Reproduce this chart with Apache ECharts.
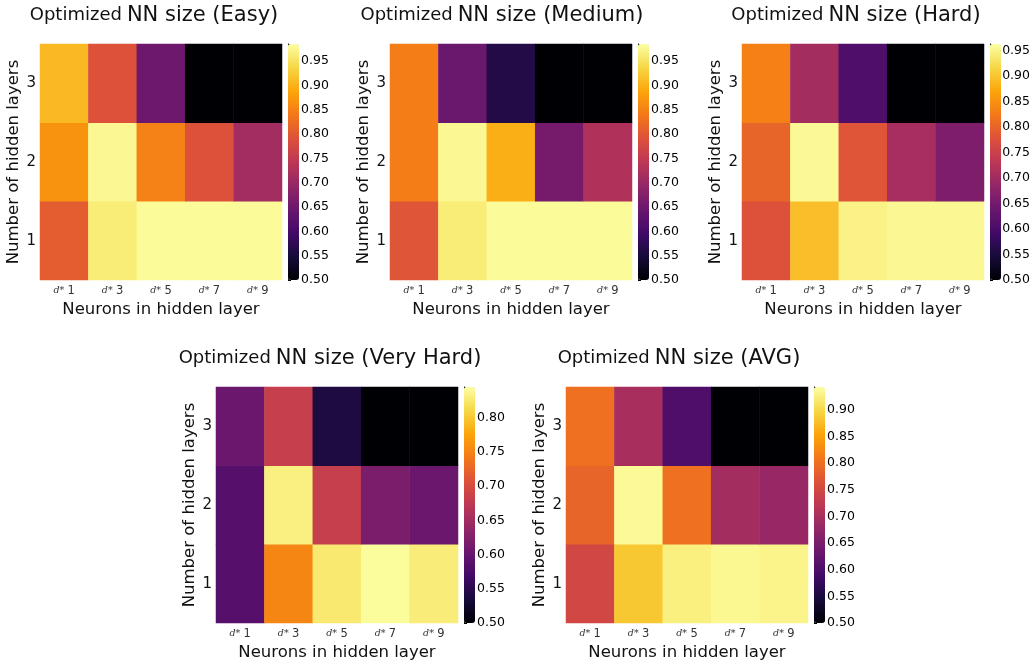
<!DOCTYPE html>
<html>
<head>
<meta charset="utf-8">
<script src="https://cdn.jsdelivr.net/npm/echarts@6/dist/echarts.min.js"></script>
<style>html,body{margin:0;padding:0;background:#fff}#c{width:1033px;height:666px}</style>
</head>
<body>
<div id="c"></div>
<script>
// ---- data ----
const neurons = ['d* 1', 'd* 3', 'd* 5', 'd* 7', 'd* 9'];
const layers = ['1', '2', '3'];
// each row: hidden layers 1,2,3 ; columns: d*1 .. d*9
const easy = [
  [0.806, 0.962, 0.980, 0.980, 0.980],
  [0.869, 0.976, 0.850, 0.791, 0.713],
  [0.907, 0.791, 0.650, 0.500, 0.500]
];
const medium = [
  [0.796, 0.962, 0.980, 0.980, 0.980],
  [0.845, 0.976, 0.898, 0.660, 0.728],
  [0.845, 0.646, 0.563, 0.500, 0.500]
];
const hard = [
  [0.778, 0.894, 0.948, 0.955, 0.955],
  [0.801, 0.956, 0.782, 0.708, 0.662],
  [0.833, 0.704, 0.606, 0.500, 0.500]
];
const veryHard = [
  [0.586, 0.752, 0.826, 0.842, 0.829],
  [0.586, 0.832, 0.683, 0.617, 0.604],
  [0.604, 0.683, 0.541, 0.500, 0.500]
];
const avg = [
  [0.748, 0.885, 0.926, 0.934, 0.931],
  [0.788, 0.937, 0.801, 0.695, 0.682],
  [0.801, 0.700, 0.602, 0.500, 0.500]
];
const panelNames = ['Easy', 'Medium', 'Hard', 'Very Hard', 'AVG'];
const colorMin = 0.5;
const colorMax = [0.985, 0.985, 0.963, 0.845, 0.943];
const colorStep = 0.05;

// ---- layout ----
const panels = [
  {d: easy,     hx: 40,  hy: 44,  tx: 154},
  {d: medium,   hx: 390, hy: 44,  tx: 502},
  {d: hard,     hx: 742, hy: 44,  tx: 856},
  {d: veryHard, hx: 216, hy: 387, tx: 330},
  {d: avg,      hx: 566, hy: 387, tx: 679}
];
const HW = 242, HH = 236, CBW = 11, CBGAP = 6;
const inferno = ['#000004','#160b39','#420a68','#6a176e','#932667','#bc3754','#dd513a','#f37819','#fca50a','#f6d746','#fcffa4'];
const FONT = 'DejaVu Sans';

const option = {
  backgroundColor: '#fff',
  animation: false,
  title: [], grid: [], xAxis: [], yAxis: [], series: [], visualMap: []
};

panels.forEach((p, i) => {
  const data = [];
  p.d.forEach((row, yi) => row.forEach((v, xi) => data.push([xi, yi, v])));
  const cbLeft = p.hx + HW + CBGAP;
  option.title.push({
    text: '{a|Optimized} {b|NN size (' + panelNames[i] + ')}',
    left: p.tx, top: p.hy - 39, textAlign: 'center', padding: 0,
    textStyle: {fontWeight: 'normal', rich: {
      a: {fontFamily: FONT, fontSize: 18, fontWeight: 'normal', color: '#111'},
      b: {fontFamily: FONT, fontSize: 21, fontWeight: 'normal', color: '#111'}
    }}
  });
  // heatmap grid
  option.grid.push({left: p.hx, top: p.hy, width: HW, height: HH});
  const gi = option.grid.length - 1;
  option.xAxis.push({
    type: 'category', gridIndex: gi, data: neurons,
    axisLine: {show: false}, axisTick: {show: false}, splitLine: {show: false},
    axisLabel: {
      margin: 5, interval: 0,
      formatter: v => '{d|' + v.split(' ')[0] + '} {n|' + v.split(' ')[1] + '}',
      rich: {
        d: {fontFamily: 'DejaVu Serif', fontStyle: 'italic', fontSize: 9.5, color: '#333'},
        n: {fontFamily: FONT, fontSize: 11.5, color: '#333'}
      }
    },
    name: 'Neurons in hidden layer', nameLocation: 'middle', nameGap: 21,
    nameTextStyle: {fontFamily: FONT, fontSize: 16.5, color: '#111'}
  });
  option.yAxis.push({
    type: 'category', gridIndex: gi, data: layers,
    axisLine: {show: false}, axisTick: {show: false}, splitLine: {show: false},
    axisLabel: {margin: 4, fontFamily: FONT, fontSize: 15, color: '#111'},
    name: 'Number of hidden layers', nameLocation: 'middle', nameGap: 14, nameRotate: 90,
    nameTextStyle: {fontFamily: FONT, fontSize: 16.5, color: '#111'}
  });
  option.series.push({
    type: 'heatmap', xAxisIndex: gi, yAxisIndex: gi, data: data,
    itemStyle: {borderWidth: 0}
  });
  const si = option.series.length - 1;
  option.visualMap.push({
    type: 'continuous', seriesIndex: si, min: colorMin, max: colorMax[i],
    calculable: false, text: null, padding: 0, orient: 'vertical',
    left: cbLeft, top: p.hy, itemWidth: CBW, itemHeight: HH,
    inRange: {color: inferno}, hoverLink: false
  });
  // colourbar axis
  option.grid.push({left: cbLeft, top: p.hy, width: CBW, height: HH});
  const ci = option.grid.length - 1;
  option.xAxis.push({type: 'value', gridIndex: ci, show: false});
  option.yAxis.push({
    type: 'value', gridIndex: ci, position: 'right', min: colorMin, max: colorMax[i], interval: colorStep,
    axisLine: {show: true, lineStyle: {color: '#000', width: 1}},
    axisTick: {show: true, length: 3, lineStyle: {color: '#000'}},
    splitLine: {show: false},
    axisLabel: {
      margin: 2, fontFamily: FONT, fontSize: 12.5, color: '#000',
      formatter: v => {
        const k = (v - colorMin) / colorStep;
        return Math.abs(k - Math.round(k)) < 1e-6 ? v.toFixed(2) : '';
      }
    }
  });
});

const chart = echarts.init(document.getElementById('c'), null, {renderer: 'canvas'});
chart.setOption(option);
</script>
</body>
</html>
